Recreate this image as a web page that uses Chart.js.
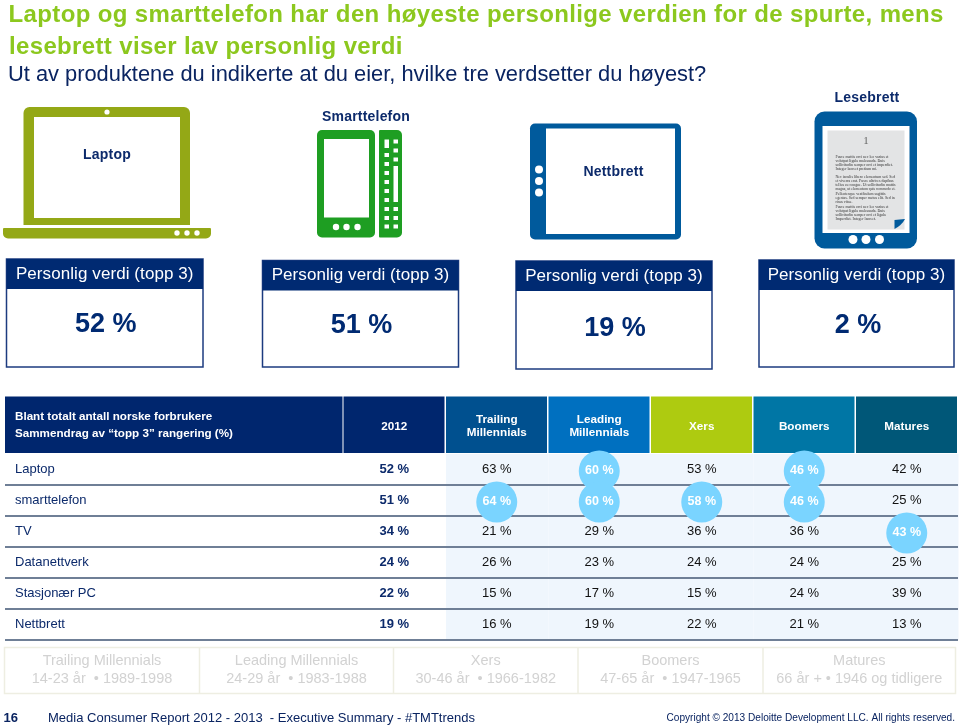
<!DOCTYPE html>
<html><head><meta charset="utf-8">
<style>html,body{margin:0;padding:0;background:#fff;overflow:hidden}#c{display:block}</style>
<script src="https://cdn.jsdelivr.net/npm/chart.js@4/dist/chart.umd.min.js"></script>
</head><body>
<div style="position:absolute;left:0;top:0;width:960px;height:726px"><canvas id="c" width="960" height="726"></canvas></div>
<script>
const titleLines = ['Laptop og smarttelefon har den høyeste personlige verdien for de spurte, mens','lesebrett viser lav personlig verdi'];
const subtitle = 'Ut av produktene du indikerte at du eier, hvilke tre verdsetter du høyest?';
const products = ['Laptop','Smarttelefon','Nettbrett','Lesebrett'];
const productValues = [52,51,19,2];
const cardHeader = 'Personlig verdi (topp 3)';
const headerLines = ['Blant totalt antall norske forbrukere','Sammendrag av “topp 3” rangering (%)'];
const columns = ['2012','Trailing Millennials','Leading Millennials','Xers','Boomers','Matures'];
const rows = ['Laptop','smarttelefon','TV','Datanettverk','Stasjonær PC','Nettbrett'];
const total2012 = [52,51,34,24,22,19];
const trailing = [63,64,21,26,15,16];
const leading = [60,60,29,23,17,19];
const xers = [53,58,36,24,15,22];
const boomers = [46,46,36,24,24,21];
const matures = [42,25,43,25,39,13];
const highlighted = [[],[1],[0,1],[1],[0,1],[2]];
const seriesValues = [total2012,trailing,leading,xers,boomers,matures];
const legendTitles = ['Trailing Millennials','Leading Millennials','Xers','Boomers','Matures'];
const legendRanges = ['14-23 år  • 1989-1998','24-29 år  • 1983-1988','30-46 år  • 1966-1982','47-65 år  • 1947-1965','66 år + • 1946 og tidligere'];
const footerPage = '16';
const footerText = 'Media Consumer Report 2012 - 2013  - Executive Summary - #TMTtrends';
const copyright = 'Copyright © 2013 Deloitte Development LLC. All rights reserved.';
const bookText = [
 ['Fusce mattis orci nec leo varius et','volutpat ligula malesuada. Duis','sollicitudin semper orci et imperdiet.','Integer laoreet pretium mi.'],
 ['Nec iaculis libero elementum sed. Sed','et viverra erat. Fusce ultrices dapibus','tellus eu congue. Ut sollicitudin mattis','magna, ut elementum quis commodo et.','Pellentesque vestibulum sagittis','egestas. Sed semper metus elit. Sed in','risus vitae.'],
 ['Fusce mattis orci nec leo varius et','volutpat ligula malesuada. Duis','sollicitudin semper orci et ligula','Imperdiet. Integer laoreet.']
];

const NAVY='#002A72', FONT='"Liberation Sans", Arial, sans-serif';
const headerColors=['#00266E','#00508F','#0070C0','#AECB10','#0076A5','#005778'];

function rr(ctx,x,y,w,h,r,color){ctx.fillStyle=color;ctx.beginPath();ctx.roundRect(x,y,w,h,r);ctx.fill();}
function dot(ctx,x,y,r,color){ctx.fillStyle=color;ctx.beginPath();ctx.arc(x,y,r,0,Math.PI*2);ctx.fill();}
function txt(ctx,s,x,y,font,color,align,spacing,maxW){ctx.font=font;ctx.fillStyle=color;ctx.textAlign=align||'left';ctx.textBaseline='middle';ctx.letterSpacing=spacing||'0px';if(maxW)ctx.fillText(s,x,y,maxW);else ctx.fillText(s,x,y);ctx.letterSpacing='0px';}

function drawIcons(ctx){
  const ol='#94A816',gr='#1E9E22',bl='#005A9C';
  // laptop
  rr(ctx,23.5,107,166.5,118,[6,6,0,0],ol);
  ctx.fillStyle='#fff';ctx.fillRect(34,117,146,101);
  dot(ctx,107,112,2.6,'#fff');
  rr(ctx,3,228,208,10.5,[1,1,5,5],ol);
  [177,187,197].forEach(x=>dot(ctx,x,233,2.7,'#fff'));
  // phone
  rr(ctx,317,130,58,107.5,5,gr);
  ctx.fillStyle='#fff';ctx.fillRect(324,139,45,78.5);
  [336,346.5,357.5].forEach(x=>dot(ctx,x,227,3.2,'#fff'));
  rr(ctx,379,130,23,107.5,[1,5,5,1],gr);
  ctx.fillStyle='#fff';
  ctx.fillRect(384.5,139.5,4.5,8.5);
  [153,162,171,180,189,198,207,216,224.5].forEach(y=>ctx.fillRect(384.5,y,4.5,4));
  [139.5,148.5,157.5,207,216,224.5].forEach(y=>ctx.fillRect(393.5,y,4.5,4));
  ctx.fillRect(393.5,166,4.5,36);
  // tablet
  rr(ctx,530,123.5,151,116,5,bl);
  ctx.fillStyle='#fff';ctx.fillRect(546,128.5,129,105.5);
  [169.5,181,192.5].forEach(y=>dot(ctx,539,y,4,'#fff'));
  // e-reader
  rr(ctx,814.5,111.5,102.5,137,10,bl);
  ctx.fillStyle='#fff';ctx.fillRect(822.5,126,87,107);
  ctx.fillStyle='#E3E4E5';ctx.fillRect(827.5,130.5,77,99);
  [853,866,879.5].forEach(x=>dot(ctx,x,239.5,4.5,'#fff'));
  ctx.fillStyle=bl;ctx.beginPath();ctx.moveTo(894.5,229);ctx.lineTo(894.5,220);ctx.lineTo(905,219);ctx.quadraticCurveTo(902,225,894.5,229);ctx.fill();
  txt(ctx,'1',866,141,'11px "Liberation Serif", serif','#666','center');
  const ys=[157,177,207];
  bookText.forEach((para,i)=>{para.forEach((line,j)=>{txt(ctx,line,835.5,ys[i]+j*4.15,'3.9px "Liberation Serif", serif','#333','left',null,60);});});
}

const pagePlugin={id:'page',
 beforeDraw(chart){
  const ctx=chart.ctx,xs=chart.scales.x,ca=chart.chartArea;
  ctx.save();
  ctx.fillStyle='#fff';ctx.fillRect(0,0,960,726);
  // title
  txt(ctx,titleLines[0],8.5,15.5,'bold 24px '+FONT,'#8CC81E','left','0.37px');
  txt(ctx,titleLines[1],9,47.5,'bold 24px '+FONT,'#8CC81E','left','0.35px');
  txt(ctx,subtitle,8,74.5,'21.85px '+FONT,'#0A2461','left');
  drawIcons(ctx);
  // product labels
  [[107,155],[366,117],[613.5,172.5],[867,98]].forEach((p,i)=>txt(ctx,products[i],p[0],p[1],'bold 14px '+FONT,'#0C2A6B','center','0.2px'));
  // cards
  [[6.5,259,196.5,108,66],[262.5,260.5,196,106.5,65.5],[516,261,196,108,67.5],[759,260,195,107,66]].forEach((c,i)=>{
    ctx.strokeStyle='#1C3B7F';ctx.lineWidth=1.5;ctx.strokeRect(c[0],c[1],c[2],c[3]);
    ctx.fillStyle=NAVY;ctx.fillRect(c[0],c[1],c[2],30);
    txt(ctx,cardHeader,c[0]+c[2]/2,c[1]+15,'17px '+FONT,'#fff','center','0.08px');
    txt(ctx,productValues[i]+' %',c[0]+c[2]/2+(i==3?1.5:1),c[1]+c[4],'bold 27px '+FONT,NAVY,'center');
  });
  // table header
  ctx.fillStyle='#00266E';ctx.fillRect(5,396.5,337.5,56.5);
  headerLines.forEach((l,i)=>txt(ctx,l,15,417+i*16.7,'bold 11.65px '+FONT,'#fff','left'));
  const w=xs.width/columns.length;
  columns.forEach((c,i)=>{
    const cx=xs.getPixelForTick(i);
    ctx.fillStyle=headerColors[i];ctx.fillRect(cx-w/2+0.5,396.5,w-1.5,56.5);
    if(i>0){ctx.fillStyle='#EFF6FD';ctx.fillRect(cx-w/2+0.5,ca.top,w,ca.bottom-ca.top);}
  });
  // legend boxes
  const edges=[4.5,199.5,393.5,578,763,955.5];
  ctx.strokeStyle='#EEEEE2';ctx.lineWidth=1.5;ctx.strokeRect(4.5,647.5,951,46);
  edges.slice(1,5).forEach(x=>{ctx.beginPath();ctx.moveTo(x,647.5);ctx.lineTo(x,693.5);ctx.stroke();});
  legendTitles.forEach((t,i)=>{
    const cx=(edges[i]+edges[i+1])/2;
    txt(ctx,t,cx,661,'14.5px '+FONT,'#D2D2D2','center');
    txt(ctx,legendRanges[i],cx,678.5,'14.5px '+FONT,'#D2D2D2','center');
  });
  // footer
  txt(ctx,footerPage,3.5,718,'bold 13px '+FONT,'#0A2461','left');
  txt(ctx,footerText,48,718,'13px '+FONT,'#0A2461','left');
  txt(ctx,copyright,955,718,'10.1px '+FONT,'#0A2461','right');
  ctx.restore();
 },
 beforeDatasetsDraw(chart){chart.ctx.save();chart.ctx.translate(0,1.5);},
 afterDatasetsDraw(chart){
  const ctx=chart.ctx,xs=chart.scales.x,ys=chart.scales.y;
  ctx.restore();
  ctx.save();
  seriesValues.forEach((vals,c)=>vals.forEach((v,r)=>{
    const hi=highlighted[c].includes(r);
    const x=xs.getPixelForTick(c),y=ys.getPixelForTick(r)+(hi?1.5:0);
    const color=hi?'#fff':(c==0?'#0C2A6B':'#111');
    const font=(hi||c==0?'bold ':'')+(hi?'12.5px ':'13px ')+FONT;
    txt(ctx,v+' %',x,y,font,color,'center');
  }));
  ctx.restore();
 }
};

new Chart(document.getElementById('c').getContext('2d'),{
 type:'bubble',
 data:{labels:columns,
  datasets:seriesValues.map((vals,c)=>({
    label:columns[c],
    data:vals.map((v,r)=>({x:columns[c],y:rows[r]})),
    radius:ctx=>highlighted[c].includes(ctx.dataIndex)?20.5:0,
    backgroundColor:'#7AD4FF',borderWidth:0,hoverRadius:0,clip:false
  }))},
 options:{responsive:false,animation:false,devicePixelRatio:1,
  layout:{autoPadding:false,padding:{left:15,right:2,top:396,bottom:86}},
  plugins:{legend:{display:false},tooltip:{enabled:false},title:{display:false}},
  events:[],
  scales:{
   x:{type:'category',position:'top',offset:true,labels:columns,
      afterFit:s=>{s.height=58;s.paddingLeft=0;s.paddingRight=0;},
      border:{display:false},
      grid:{display:false,drawTicks:false},
      ticks:{autoSkip:false,maxRotation:0,minRotation:0,crossAlign:'center',padding:21,color:'#fff',
             font:{family:FONT,size:11.7,weight:'bold',lineHeight:1.1},
             callback:function(v){return this.getLabelForValue(v).split(' ');}}},
   y:{type:'category',offset:true,labels:rows,
      afterFit:s=>{s.width=328;s.paddingTop=0;s.paddingBottom=0;},
      border:{display:false},
      grid:{offset:true,tickLength:338,lineWidth:2,color:ctx=>ctx.index===0?'rgba(0,0,0,0)':'#6F7F96'},
      ticks:{autoSkip:false,crossAlign:'far',padding:0,color:'#0C2A6B',font:{family:FONT,size:13}}}
  }},
 plugins:[pagePlugin]
});
</script></body></html>
